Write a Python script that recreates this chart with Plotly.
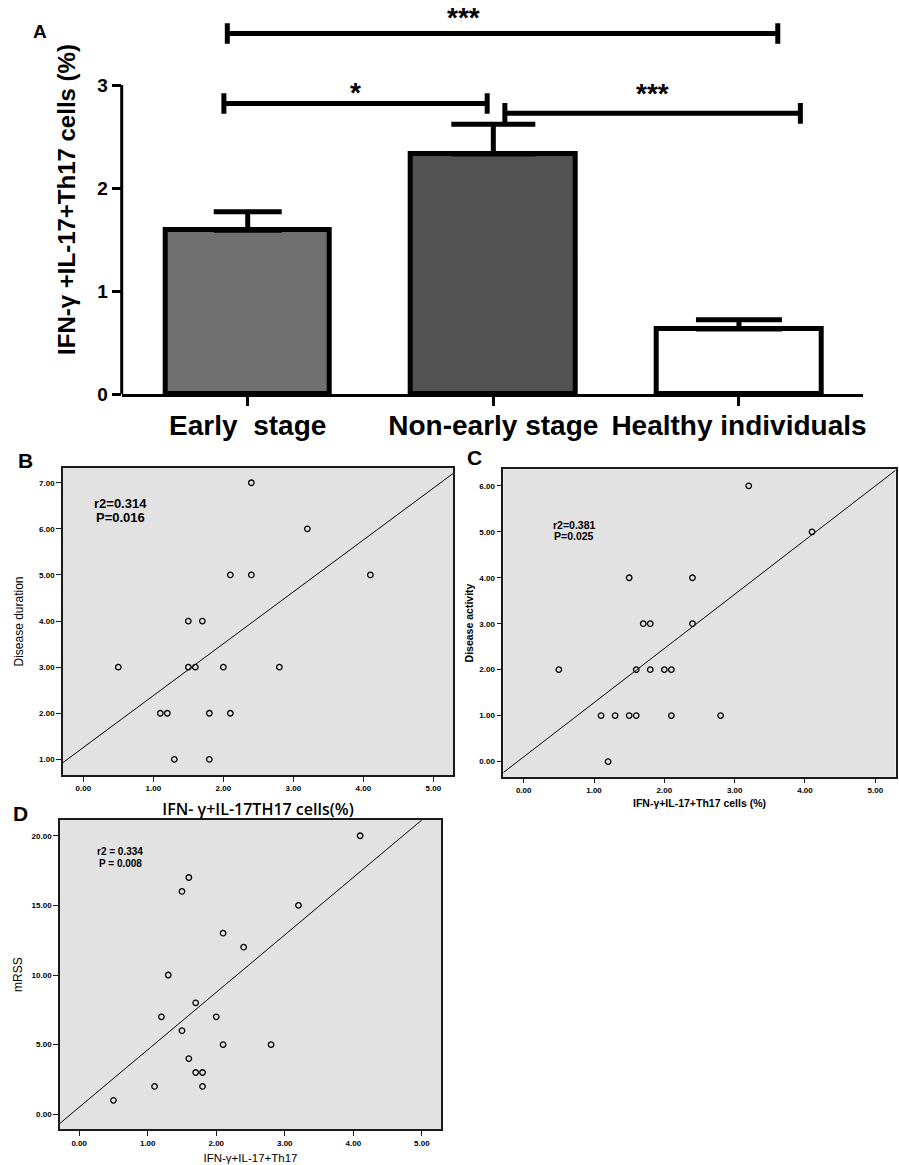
import plotly.graph_objects as go

W, H = 899, 1165

# ---------------- Panel A data ----------------
categories = ["Early  stage", "Non-early stage", "Healthy individuals"]
cat_pos = [0, 1, 2]
bar_means = [1.59, 2.33, 0.63]
bar_err_up = [0.18, 0.29, 0.09]
bar_colors = ["#707070", "#525252", "#ffffff"]
bar_cap_halfwidth = [34, 42, 43]

# significance brackets (left x, right x, y, label)
br_left = [-0.083, -0.097, 1.047]
br_right = [2.158, 0.975, 2.25]
br_y = [3.50, 2.82, 2.725]
br_text = ["***", "*", "***"]
br_text_x = [0.88, 0.44, 1.65]
br_text_y = [3.66, 2.93, 2.92]

# ---------------- Panel B data ----------------
b_x = [0.5, 1.1, 1.2, 1.3, 1.5, 1.7, 1.5, 1.6, 1.8, 1.8, 2.0, 2.1, 2.1, 2.4, 2.4, 2.8, 3.2, 4.1]
b_y = [3, 2, 2, 1, 4, 4, 3, 3, 2, 1, 3, 5, 2, 7, 5, 3, 6, 5]
b_fit_x = [-0.29, 5.28]
b_fit_y = [0.93, 7.2]

# ---------------- Panel C data ----------------
c_x = [0.5, 1.1, 1.2, 1.3, 1.5, 1.6, 1.5, 1.6, 1.7, 1.8, 1.8, 2.0, 2.1, 2.1, 2.4, 2.4, 2.8, 3.2, 4.1]
c_y = [2, 1, 0, 1, 1, 1, 4, 2, 3, 3, 2, 2, 2, 1, 4, 3, 1, 6, 5]
c_fit_x = [-0.29, 5.29]
c_fit_y = [-0.24, 6.34]

# ---------------- Panel D data ----------------
d_x = [0.5, 1.1, 1.2, 1.3, 1.5, 1.6, 1.5, 1.6, 1.7, 1.7, 1.8, 1.8, 2.0, 2.1, 2.1, 2.4, 2.8, 3.2, 4.1]
d_y = [1, 2, 7, 10, 16, 17, 6, 4, 8, 3, 3, 2, 7, 13, 5, 12, 5, 15, 20]
d_fit_x = [-0.28, 5.0]
d_fit_y = [-0.65, 21.13]

FONT = "Liberation Sans, Arial, sans-serif"


def px_x(p):
    return p / W


def px_y(p):
    return 1 - p / H


fig = go.Figure()

# ---- Panel A bars ----
for i in range(3):
    fig.add_trace(go.Bar(
        x=[cat_pos[i]], y=[bar_means[i]], width=0.67,
        marker=dict(color=bar_colors[i], line=dict(color="black", width=5)),
        error_y=dict(type="data", array=[bar_err_up[i]], arrayminus=[0], symmetric=False,
                     color="black", thickness=5, width=bar_cap_halfwidth[i]),
        xaxis="x", yaxis="y", showlegend=False, hoverinfo="skip"))

# ---- significance brackets ----
for l, r, y in zip(br_left, br_right, br_y):
    cap = 0.1
    fig.add_trace(go.Scatter(
        x=[l, r, None, l, l, None, r, r],
        y=[y, y, None, y - cap, y + cap, None, y - cap, y + cap],
        mode="lines", line=dict(color="black", width=5),
        xaxis="x", yaxis="y", showlegend=False, hoverinfo="skip", cliponaxis=False))

for tx, ty, t in zip(br_text_x, br_text_y, br_text):
    fig.add_annotation(x=tx, y=ty, xref="x", yref="y", text=t, showarrow=False,
                       font=dict(family=FONT, size=28, color="black", weight="bold"))

# ---- scatter panels ----
scatter_sets = [
    (b_x, b_y, b_fit_x, b_fit_y, "x2", "y2"),
    (c_x, c_y, c_fit_x, c_fit_y, "x3", "y3"),
    (d_x, d_y, d_fit_x, d_fit_y, "x4", "y4"),
]
for sx, sy, fx, fy, xa, ya in scatter_sets:
    fig.add_trace(go.Scatter(x=fx, y=fy, mode="lines", line=dict(color="black", width=1),
                             xaxis=xa, yaxis=ya, showlegend=False, hoverinfo="skip"))
    fig.add_trace(go.Scatter(x=sx, y=sy, mode="markers",
                             marker=dict(symbol="circle-open", size=5.5, color="black",
                                         line=dict(width=1.3, color="black")),
                             xaxis=xa, yaxis=ya, showlegend=False, hoverinfo="skip"))

# gray backgrounds for scatter panels
for ax in ["x2", "x3", "x4"]:
    ya = "y" + ax[1:]
    fig.add_shape(type="rect", xref=ax + " domain", yref=ya + " domain", x0=0, x1=1, y0=0, y1=1,
                  fillcolor="#e2e2e2", line=dict(width=0), layer="below")

# y axis line of panel A (only from 0 to 3)
fig.add_shape(type="line", xref="x domain", yref="y", x0=0, x1=0, y0=0, y1=3,
              line=dict(color="black", width=3))

# ---- annotations r2 / P ----
stat_ann = [
    ("x2", "y2", 0.536, 6.54, "r2=0.314", 13, "bold"),
    ("x2", "y2", 0.536, 6.25, "P=0.016", 13, "bold"),
    ("x3", "y3", 0.715, 5.14, "r2=0.381", 10.5, "bold"),
    ("x3", "y3", 0.715, 4.90, "P=0.025", 10.5, "bold"),
    ("x4", "y4", 0.60, 18.85, "r2 = 0.334", 10, "bold"),
    ("x4", "y4", 0.60, 18.0, "P = 0.008", 10, "bold"),
]
for xa, ya, xx, yy, t, fs, wt in stat_ann:
    fig.add_annotation(x=xx, y=yy, xref=xa, yref=ya, text=t, showarrow=False,
                       font=dict(family=FONT, size=fs, color="black", weight=wt))

# panel letters
for lab, lx, ly in [("A", 39.7, 31), ("B", 25.5, 460.5), ("C", 475, 458), ("D", 20, 813)]:
    fig.add_annotation(x=px_x(lx), y=px_y(ly), xref="paper", yref="paper", text=lab,
                       showarrow=False, xanchor="center", yanchor="middle",
                       font=dict(family=FONT, size=21 if lab != "A" else 19, color="black", weight="bold"))

small_tick = dict(family=FONT, size=8, color="black", weight="bold")
frame = dict(showline=True, mirror=True, linecolor="#1a1a1a", linewidth=1.5,
             ticks="outside", ticklen=5, tickwidth=1.2, tickcolor="#1a1a1a",
             showgrid=False, zeroline=False, tickfont=small_tick, tickformat=".2f",
             automargin=False)

fig.update_layout(
    width=W, height=H, margin=dict(l=0, r=0, t=0, b=0),
    paper_bgcolor="white", plot_bgcolor="white",
    font=dict(family=FONT, color="black"),
    bargap=0,
    # Panel A
    xaxis=dict(domain=[px_x(121.7), px_x(863)], range=[-0.513, 2.505],
               tickvals=cat_pos, ticktext=categories,
               showline=True, linecolor="black", linewidth=3,
               ticks="outside", ticklen=9, tickwidth=3, tickcolor="black",
               tickfont=dict(family=FONT, size=28, color="black", weight="bold"),
               showgrid=False, zeroline=False, automargin=False, ticklabelstandoff=-5),
    yaxis=dict(domain=[px_y(394), px_y(5)], range=[0, 3.777],
               tickvals=[0, 1, 2, 3], showline=False,
               ticks="outside", ticklen=9, tickwidth=3, tickcolor="black",
               tickfont=dict(family=FONT, size=19, color="black", weight="bold"),
               showgrid=False, zeroline=False, automargin=False,
               title=dict(text="IFN-γ +IL-17+Th17 cells (%)", standoff=14,
                          font=dict(family=FONT, size=24, color="black", weight="bold"))),
    # Panel B
    xaxis2=dict(domain=[px_x(63), px_x(453)], range=[-0.29, 5.28], anchor="y2", dtick=1, tick0=0,
                title=dict(text="IFN- γ+IL-17TH17 cells(%)", standoff=11,
                           font=dict(family="Open Sans, sans-serif", size=16, color="black", weight=600)),
                **frame),
    yaxis2=dict(domain=[px_y(775), px_y(468)], range=[0.66, 7.32], anchor="x2", dtick=1, tick0=0,
                title=dict(text="Disease duration", standoff=13,
                           font=dict(family=FONT, size=12, color="black")),
                **frame),
    # Panel C
    xaxis3=dict(domain=[px_x(503.3), px_x(895.7)], range=[-0.29, 5.29], anchor="y3", dtick=1, tick0=0,
                title=dict(text="IFN-γ+IL-17+Th17 cells (%)", standoff=6,
                           font=dict(family=FONT, size=10.5, color="black", weight="bold")),
                **frame),
    yaxis3=dict(domain=[px_y(776.7), px_y(469.3)], range=[-0.33, 6.36], anchor="x3", dtick=1, tick0=0,
                title=dict(text="Disease activity", standoff=4,
                           font=dict(family=FONT, size=10.5, color="black", weight="bold")),
                **frame),
    # Panel D
    xaxis4=dict(domain=[px_x(60), px_x(441)], range=[-0.28, 5.28], anchor="y4", dtick=1, tick0=0,
                title=dict(text="IFN-γ+IL-17+Th17", standoff=7,
                           font=dict(family=FONT, size=11.5, color="black")),
                **frame),
    yaxis4=dict(domain=[px_y(1129.3), px_y(820)], range=[-1.08, 21.13], anchor="x4", dtick=5, tick0=0,
                title=dict(text="mRSS", standoff=6,
                           font=dict(family=FONT, size=12, color="black")),
                **frame),
)

fig.write_html("out.html", post_script="document.body.style.margin='0';",
               config={"displayModeBar": False})
